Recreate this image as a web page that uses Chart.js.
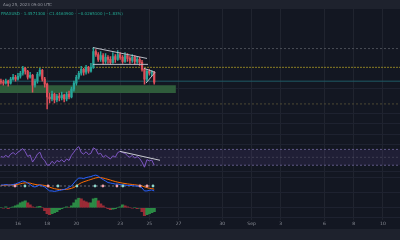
<!DOCTYPE html>
<html><head><meta charset="utf-8">
<script src="https://cdn.jsdelivr.net/npm/chart.js@4.4.0/dist/chart.umd.min.js"></script>
<style>
html,body{margin:0;padding:0;background:#131722;width:400px;height:240px;overflow:hidden;font-family:"DejaVu Sans",sans-serif}
#top{position:absolute;left:0;top:0;width:400px;height:9px;background:#1e222d}
#bot{position:absolute;left:0;top:229px;width:400px;height:11px;background:#1e222d}
#wrap{position:absolute;left:0;top:0;width:400px;height:229px}
#t1{position:absolute;left:3px;top:2px;font-size:4px;line-height:5px;color:#9598a1;white-space:nowrap}
#t2{position:absolute;left:1px;top:11px;font-size:4px;line-height:5px;color:#22ab94;white-space:nowrap}
</style></head>
<body>
<div id="top"></div><div id="bot"></div>
<div id="wrap"><canvas id="c" width="400" height="229"></canvas></div>
<div id="t1">Aug 25, 2023 09:00 UTC</div>
<div id="t2">FRAXUSD · 1.4571300 · C1.4463900 · −0.0265100 (−1.83%)</div>
<script>
// ---- data (4h candles, price in chart units) ----
const opens  = [118,117,116,118,116,120,122,120,123,126,131,128,122,124,114,118,125,129,120,115,102,100,105,99,103,101,104,100,105,102,110,116,122,126,130,127,132,128,132,148,145,140,144,138,142,140,137,143,140,145,142,138,144,141,139,142,138,140,137,130,120,128,126,127];
const highs  = [120,119,120,119,122,125,124,126,128,133,132,129,127,125,120,127,131,130,122,116,106,108,106,105,106,107,105,107,108,112,118,124,128,133,131,134,133,136,152,150,147,148,146,146,144,143,147,145,149,147,144,147,146,143,145,144,143,142,139,131,130,130,129,128];
const lows   = [115,114,115,113,115,119,118,119,121,124,125,120,121,107,112,116,123,118,112,90,96,98,96,97,98,99,97,98,100,101,108,114,120,124,124,125,126,127,131,143,138,138,135,136,136,135,136,137,139,140,136,137,138,136,137,135,136,134,128,115,118,124,123,115];
const closes = [117,116,118,116,120,122,120,123,126,131,128,122,124,114,118,125,129,120,115,102,100,105,99,103,101,104,100,105,102,110,116,122,126,130,127,132,128,132,148,145,140,144,138,142,140,137,143,140,145,142,138,144,141,139,142,138,140,137,130,120,128,126,127,117];
const rsiVals = [52,50,55,50,58,62,57,63,67,72,64,52,56,38,47,58,63,48,42,30,31,40,34,42,39,44,38,46,42,55,63,72,77,62,58,64,57,60,74,70,58,60,50,55,50,46,54,50,62,65,62,60,54,50,55,48,52,47,38,25,44,41,43,30];
const macdVals = [1,1,1.5,1,1,1.5,2,3,4,5,4.5,3,1.5,-0.5,-1,0,1,0,-1,-3,-5,-5,-5.5,-5,-4.5,-4,-3.5,-2.5,-1,0,3,6,8,8,7.5,8.5,9,9.5,10.5,11,10,8,6.5,5,3.5,3,2.5,2,2,1.5,1,1,0.5,0.5,0.5,0,0,-0.5,-2,-5,-5,-4.5,-4,-5];
const signalVals = [0.5,0.7,0.9,1,1,1.1,1.3,1.7,2.2,2.8,3.2,3.2,2.9,2.2,1.6,1.2,1.1,0.9,0.5,-0.2,-1.2,-2,-2.7,-3.2,-3.5,-3.6,-3.6,-3.4,-3,-2.4,-1.5,0,1.8,3.2,4.2,5,5.8,6.6,7.4,8.2,8.6,8.5,8,7.4,6.7,6,5.2,4.5,3.9,3.4,2.9,2.5,2.1,1.8,1.5,1.2,0.9,0.6,0.1,-0.9,-1.7,-2.3,-2.7,-3.2];
const histVals = [0.5,-0.5,1,-1,0.5,1,2,3,5,6,7,5,3,1,0.5,1,1.5,0,-3,-6,-7,-6,-5,-4,-2,-1,0.5,1,0.5,2,5,8,10,9,7,6,5,5,9,10,7,4,2,0,-1,-2,-1.5,-1,0.5,1,3,2,1,0.5,-0.5,0.5,-1,-0.5,-4,-8,-7,-6,-5,-4];
const crossDays = [15.8,16.48,18.06,18.74,20.04,21.28,21.82,22.78,23.19,24.36,24.84,25.25];
const crossUp   = [false,true,false,true,true,true,false,false,true,false,false,true];
// x axis: day-of-August numbering (Sep d = 31 + d)
const tickDays   = [16,18,20,23,25,27,30,32,34,37,39,41];
const tickLabels = ['16','18','20','23','25','27','30','Sep','3','6','8','10'];
const candleStartDay = 14 + 20/24, candleStepDay = 4/24;
const xMin = 14.77, xMax = 42.17;
// drawn levels and shapes
const levels = [151,132,118,95];
const levelColors = ['#4a4d57','#8a7e25','#1f5b66','#4c4934'];
const levelDash = [[2,2],[2,1],[],[2,2]];
const zoneTop = 114, zoneBottom = 106, zoneEndDay = 26.82;
const wedgeUpper = [[21.14,152],[24.84,141]];
const wedgeBase  = [[21.14,135],[24.91,135]];
const flagUpper  = [[24.63,131],[25.39,127]];
const flagLower  = [[24.77,116],[25.39,127]];
const rsiTrend   = [[22.99,65],[25.73,42.5]];
const rsiUpper = 70, rsiMid = 50, rsiLower = 30;

const candleDays = opens.map((_, i) => candleStartDay + i * candleStepDay);
const up = i => closes[i] >= opens[i];
const GREEN = '#26a69a', RED = '#e0505a';
const pts = arr => arr.map(p => ({x: p[0], y: p[1]}));
const flat = (v, a, b) => [{x: a, y: v}, {x: b, y: v}];
const lastDay = candleDays[candleDays.length - 1];

const line = (data, axis, color, extra) => Object.assign({
  type: 'line', yAxisID: axis, data, borderColor: color, borderWidth: 1,
  pointRadius: 0, fill: false, tension: 0
}, extra || {});

const datasets = [];
// main panel
datasets.push(line(flat(zoneTop, xMin, zoneEndDay), 'yMain', 'rgba(0,0,0,0)', {borderWidth: 0, order: 20}));
datasets.push(line(flat(zoneBottom, xMin, zoneEndDay), 'yMain', 'rgba(0,0,0,0)', {borderWidth: 0, order: 19, fill: '-1', backgroundColor: '#2f5c3b'}));
levels.forEach((v, k) => datasets.push(line(flat(v, xMin, xMax), 'yMain', levelColors[k], {borderDash: levelDash[k], order: 15})));
datasets.push({
  type: 'bar', yAxisID: 'yMain', order: 5, grouped: false, barThickness: 0.8,
  data: candleDays.map((d, i) => ({x: d, y: [lows[i], highs[i]]})),
  backgroundColor: c => up(c.dataIndex) ? GREEN : RED
});
datasets.push({
  type: 'bar', yAxisID: 'yMain', order: 4, grouped: false, barThickness: 1.6, minBarLength: 1,
  data: candleDays.map((d, i) => ({x: d, y: [opens[i], closes[i]]})),
  backgroundColor: c => up(c.dataIndex) ? GREEN : RED
});
[wedgeUpper, wedgeBase, flagUpper, flagLower].forEach(s => datasets.push(line(pts(s), 'yMain', '#b8bbc4', {order: 1})));
// RSI panel
datasets.push(line(flat(rsiUpper, xMin, xMax), 'yRsi', '#5f5a86', {borderDash: [2, 2], order: 12}));
datasets.push(line(flat(rsiLower, xMin, xMax), 'yRsi', '#5f5a86', {borderDash: [2, 2], order: 11, fill: '-1', backgroundColor: 'rgba(126,87,194,0.13)'}));
datasets.push(line(flat(rsiMid, xMin, xMax), 'yRsi', 'rgba(120,123,134,0.35)', {borderDash: [2, 2], order: 10}));
datasets.push(line(candleDays.map((d, i) => ({x: d, y: rsiVals[i]})), 'yRsi', '#7e57c2', {order: 3}));
datasets.push(line(pts(rsiTrend), 'yRsi', '#c8cad0', {order: 1}));
// MACD lines panel
datasets.push(line(flat(0, xMin, lastDay), 'yMacd', '#6a6d78', {borderDash: [2, 2], order: 10}));
datasets.push(line(candleDays.map((d, i) => ({x: d, y: signalVals[i]})), 'yMacd', '#ff6d00', {order: 3}));
datasets.push(line(candleDays.map((d, i) => ({x: d, y: macdVals[i]})), 'yMacd', '#2962ff', {order: 2}));
datasets.push({
  type: 'scatter', yAxisID: 'yMacd', order: 1,
  data: crossDays.map(d => ({x: d, y: 0})),
  pointRadius: 1.4, borderWidth: 0,
  pointBackgroundColor: crossDays.map((_, k) => crossUp[k] ? '#8fd8cc' : '#f0a3ae')
});
// histogram panel
datasets.push({
  type: 'bar', yAxisID: 'yHist', order: 3, grouped: false, barThickness: 2.5,
  data: candleDays.map((d, i) => ({x: d, y: histVals[i]})),
  backgroundColor: c => {
    const i = c.dataIndex, p = i > 0 ? histVals[i - 1] : 0;
    return histVals[i] >= p ? '#2b8a45' : '#9a2b36';
  }
});

const GRID = '#1e2230';
const yAxis = (weight, stackWeight, min, max, grid) => ({
  type: 'linear', position: 'left', stack: 'panes', stackWeight, weight, min, max,
  display: true, ticks: {display: false}, border: {display: false},
  grid: {color: GRID, drawTicks: false, lineWidth: 1},
  afterBuildTicks: s => { s.ticks = grid.map(v => ({value: v})); },
  afterFit: s => { s.width = 0; }
});

new Chart(document.getElementById('c'), {
  data: {datasets},
  options: {
    responsive: false, animation: false, devicePixelRatio: 1,
    layout: {padding: {top: 9, left: 0, right: 0, bottom: 0}, autoPadding: false},
    plugins: {legend: {display: false}, tooltip: {enabled: false}},
    scales: {
      x: {
        type: 'linear', min: xMin, max: xMax, offset: false,
        border: {display: false},
        grid: {color: '#20242f', drawTicks: false, offset: false},
        ticks: {
          color: '#8b8e97', font: {size: 4.5, family: 'DejaVu Sans'}, padding: 2,
          autoSkip: false, maxRotation: 0,
          callback: v => { const k = tickDays.indexOf(v); return k >= 0 ? tickLabels[k] : ''; }
        },
        afterBuildTicks: s => { s.ticks = tickDays.map(v => ({value: v})); }
      },
      yMain: yAxis(4, 134, 57, 191, [111, 85, 75, 64]),
      yRsi:  yAxis(3, 33, 7.5, 90, [82.5, 15]),
      yMacd: yAxis(2, 24, -12, 12, [9, -7]),
      yHist: yAxis(1, 22, -12, 10, [0, -10])
    }
  }
});
</script>
</body></html>
